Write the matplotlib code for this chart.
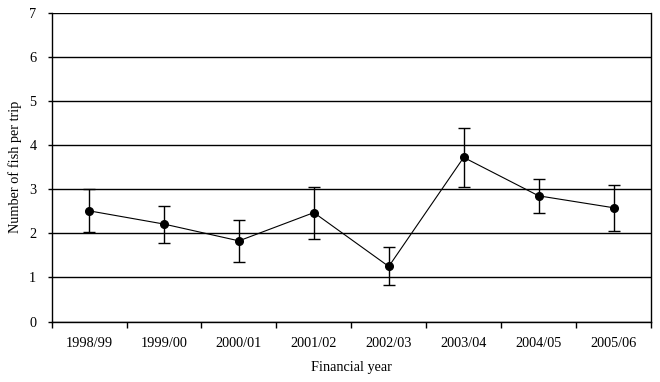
import numpy as np
import matplotlib.pyplot as plt

plt.rcParams['font.family'] = ['Liberation Serif', 'DejaVu Serif']

years = ["1998/99", "1999/00", "2000/01", "2001/02", "2002/03", "2003/04", "2004/05", "2005/06"]
fish_per_trip = [2.51, 2.21, 1.83, 2.47, 1.25, 3.72, 2.85, 2.58]
upper = [3.00, 2.63, 2.31, 3.06, 1.68, 4.38, 3.24, 3.09]
lower = [2.04, 1.78, 1.35, 1.87, 0.82, 3.04, 2.46, 2.05]

x = np.arange(len(years))
yerr = [np.array(fish_per_trip) - np.array(lower), np.array(upper) - np.array(fish_per_trip)]

fig = plt.figure(figsize=(6.6, 3.82), dpi=100)
ax = fig.add_axes([0.0783, 0.158, 0.908, 0.809])

ax.errorbar(x, fish_per_trip, yerr=yerr, color="black", lw=0.8, marker="o",
            markersize=5.5, capsize=4, elinewidth=1, capthick=1)

ax.set_xlim(-0.5, len(years) - 0.5)
ax.set_ylim(0, 7)
ax.set_yticks(range(0, 8))
ax.yaxis.grid(True, color="black", lw=1)
ax.set_axisbelow(True)

ax.set_xticks(x)
ax.set_xticklabels(years, fontsize=10.3)
ax.set_xticks(np.arange(-0.5, len(years)), minor=True)
ax.tick_params(axis="x", which="major", length=0, pad=11)
ax.tick_params(axis="x", which="minor", length=4, direction="out", width=1)
ax.tick_params(axis="y", length=3, direction="out", labelsize=10.3, width=1, pad=8)

for s in ax.spines.values():
    s.set_linewidth(1)
ax.spines["top"].set_visible(False)

ax.set_xlabel("Financial year", fontsize=10.3, labelpad=8)
ax.set_ylabel("Number of fish per trip", fontsize=10.3, labelpad=5)

fig.savefig("out.png", dpi=100)
